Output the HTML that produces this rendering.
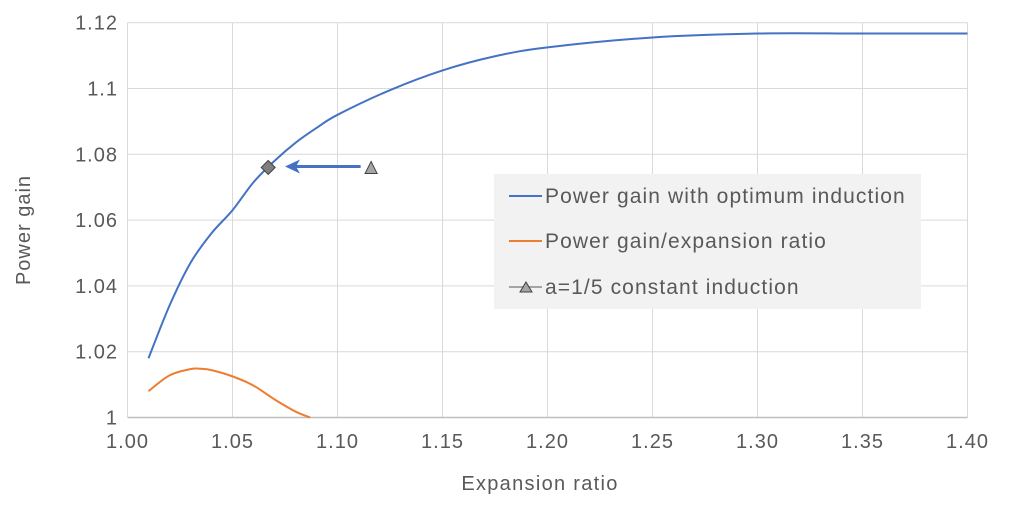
<!DOCTYPE html>
<html><head><meta charset="utf-8"><style>
body{margin:0;background:#fff;}
svg text{font-family:"Liberation Sans",Arial,sans-serif;fill:#595959;}
</style></head><body>
<svg id="chart" width="1009" height="505" viewBox="0 0 1009 505" xmlns="http://www.w3.org/2000/svg">
<g id="grid"></g>
<g id="axes"></g>
<g id="series"></g>
<text x="540" y="490" font-size="20" letter-spacing="1.3" text-anchor="middle">Expansion  ratio</text>
<text x="30" y="230" font-size="20" letter-spacing="1" text-anchor="middle" transform="rotate(-90 30 230)">Power gain</text>
<g>
<rect x="494" y="174" width="427" height="135" fill="#f2f2f2"/>
<g><line x1="509" y1="196" x2="542" y2="196" stroke="#4472c4" stroke-width="2"/><text x="545" y="203" font-size="21" letter-spacing="1.1">Power gain with optimum induction</text></g>
<g><line x1="509" y1="241" x2="542" y2="241" stroke="#ed7d31" stroke-width="2"/><text x="545" y="248" font-size="21" letter-spacing="1.1">Power gain/expansion ratio</text></g>
<g><line x1="509" y1="287" x2="542" y2="287" stroke="#a5a5a5" stroke-width="2"/><polygon points="520,292 526,282 532,292" fill="#a5a5a5" stroke="#404040" stroke-width="1"/><text x="545" y="294" font-size="21" letter-spacing="1.1">a=1/5 constant induction</text></g>
</g>
</svg>
<script>
const xTicks=[1.00,1.05,1.10,1.15,1.20,1.25,1.30,1.35,1.40];
const yTicks=[1,1.02,1.04,1.06,1.08,1.1,1.12];
const yTickLabels=["1","1.02","1.04","1.06","1.08","1.1","1.12"];
const blueX=[1.01,1.02,1.03,1.04,1.05,1.06,1.07,1.08,1.09,1.10,1.125,1.15,1.175,1.20,1.25,1.30,1.35,1.40];
const blueY=[1.018,1.034,1.047,1.056,1.063,1.0715,1.078,1.0835,1.088,1.092,1.0995,1.1055,1.1098,1.1125,1.1155,1.1167,1.1167,1.1167];
const orangeX=[1.01,1.02,1.03,1.035,1.04,1.05,1.06,1.07,1.08,1.087];
const orangeY=[1.008,1.0128,1.0147,1.0148,1.0144,1.0125,1.0097,1.0055,1.0018,1.0];
const optPoint=[1.067,1.076];
const constPoint=[1.116,1.076];
const arrowX=[1.111,1.075];
const NS="http://www.w3.org/2000/svg";
const X0=127.5,PX=2100,Y0=417.5,PY=3290;
function sx(v){return X0+(v-1)*PX;}
function sy(v){return Y0-(v-1)*PY;}
function mk(tag,attrs,parent){const e=document.createElementNS(NS,tag);for(const k in attrs)e.setAttribute(k,attrs[k]);parent.appendChild(e);return e;}
const grid=document.getElementById('grid'),axes=document.getElementById('axes'),ser=document.getElementById('series');
xTicks.forEach((t,i)=>{
  if(i>0){const l=mk('line',{x1:sx(t),x2:sx(t),y1:sy(1.12),y2:sy(1),stroke:'#d9d9d9','stroke-width':1},grid);
  
  }
  const tx=mk('text',{x:sx(t),y:448,'font-size':20,'letter-spacing':1,'text-anchor':'middle'},axes);tx.textContent=t.toFixed(2);
  
  
});
yTicks.forEach((t,i)=>{
  if(i>0){const l=mk('line',{x1:sx(1),x2:sx(1.4),y1:sy(t),y2:sy(t),stroke:'#d9d9d9','stroke-width':1},grid);
  
  }
  const tx=mk('text',{x:118,y:sy(t)+7,'font-size':20,'letter-spacing':1,'text-anchor':'end'},axes);tx.textContent=yTickLabels[i];
  
  
});
const ax=mk('line',{x1:sx(1),x2:sx(1.4),y1:sy(1),y2:sy(1),stroke:'#bfbfbf','stroke-width':1.5},axes);


const ay=mk('line',{x1:sx(1),x2:sx(1),y1:sy(1.12),y2:sy(1),stroke:'#d9d9d9','stroke-width':1},axes);


function smooth(xs,ys){const p=xs.map((x,i)=>[sx(x),sy(ys[i])]);let d='M'+p[0][0]+','+p[0][1];
 for(let i=0;i<p.length-1;i++){const p0=p[i-1]||p[i],p1=p[i],p2=p[i+1],p3=p[i+2]||p2;
 d+=` C${p1[0]+(p2[0]-p0[0])/6},${p1[1]+(p2[1]-p0[1])/6} ${p2[0]-(p3[0]-p1[0])/6},${p2[1]-(p3[1]-p1[1])/6} ${p2[0]},${p2[1]}`;}return d;}
const bl=mk('path',{d:smooth(blueX,blueY),fill:'none',stroke:'#4472c4','stroke-width':2},ser);


const ol=mk('path',{d:smooth(orangeX,orangeY),fill:'none',stroke:'#ed7d31','stroke-width':2},ser);


const ar=mk('line',{x1:sx(arrowX[0]),y1:sy(optPoint[1])-1,x2:sx(arrowX[1])+10,y2:sy(optPoint[1])-1,stroke:'#4472c4','stroke-width':3},ser);


const ah=sx(arrowX[1]),ayv=sy(optPoint[1])-1;
const head=mk('polygon',{points:`${ah},${ayv} ${ah+15},${ayv-7} ${ah+11},${ayv} ${ah+15},${ayv+7}`,fill:'#4472c4'},ser);


const dx=sx(optPoint[0]),dy=sy(optPoint[1]);
const dm=mk('polygon',{points:`${dx},${dy-7} ${dx+7},${dy} ${dx},${dy+7} ${dx-7},${dy}`,fill:'#7f7f7f',stroke:'#404040','stroke-width':1},ser);


const tx2=sx(constPoint[0]),ty2=sy(constPoint[1]);
const tr=mk('polygon',{points:`${tx2-6},${ty2+6} ${tx2},${ty2-6} ${tx2+6},${ty2+6}`,fill:'#a5a5a5',stroke:'#404040','stroke-width':1},ser);


</script>
</body></html>
